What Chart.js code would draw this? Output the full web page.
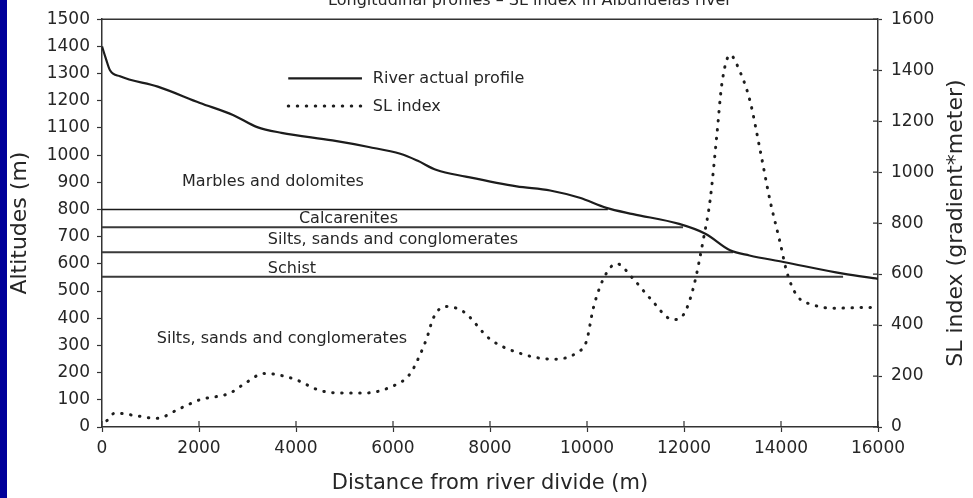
<!DOCTYPE html>
<html>
<head>
<meta charset="utf-8">
<script src="https://cdn.jsdelivr.net/npm/chart.js@4.4.1/dist/chart.umd.min.js"></script>
<style>
  html, body { margin: 0; padding: 0; background: #fff; }
  canvas { display: block; }
</style>
</head>
<body>
<canvas id="profileChart" width="973" height="498"></canvas>
<script>
'use strict';

// river actual profile (distance m, altitude m)
let riverDist = [0, 80, 165, 371, 1150, 2020, 2700, 3200, 3700, 4750, 5500, 6150, 6500, 6900, 7500, 8550, 9240, 9850, 10400, 10950, 11900, 12450, 12950, 13350, 14050, 15280, 16000];
let riverAlt  = [1400, 1355, 1312, 1290, 1252, 1192, 1148, 1103, 1082, 1054, 1030, 1005, 980, 945, 921, 885, 870, 843, 806, 783, 747, 710, 650, 631, 607, 564, 545];

// SL index (distance m, gradient*meter)
let slDist  = [100, 270, 650, 1130, 1600, 2020, 2640, 2900, 3350, 3950, 4500, 5000, 5390, 5940, 6350, 6560, 6700, 6830, 7070, 7450, 8000, 8690, 9300, 9790, 9990, 10130, 10340, 10610, 10950, 11300, 11780, 11990, 12190, 12400, 12540, 12680, 12780, 12950, 13150, 13360, 13570, 13770, 13980, 14120, 14320, 14670, 15080, 15840, 16000];
let slValue = [25, 55, 46, 34, 72, 107, 133, 165, 210, 189, 143, 133, 133, 156, 208, 285, 350, 427, 473, 453, 345, 285, 266, 292, 337, 466, 582, 641, 582, 505, 421, 441, 544, 737, 892, 1151, 1345, 1460, 1396, 1280, 1086, 892, 725, 608, 518, 479, 466, 469, 462];

// lithological contacts (altitude m, distance where they meet the river)
let layerAlt = [800, 735, 643, 553];
let layerEnd = [10430, 11980, 13010, 15280];

// lithology labels (text, distance, altitude)
let lithoText = ['Marbles and dolomites', 'Calcarenites', 'Silts, sands and conglomerates', 'Schist', 'Silts, sands and conglomerates'];
let lithoX = [1650, 4060, 3420, 3420, 1130];
let lithoY = [901, 764, 689, 582, 323];

let altTicksMax = 1500;
let slTicksMax = 1600;
let distMax = 16000;

let fontName = '"DejaVu Sans", sans-serif';
let ink = '#262626';

let datasets = [];
datasets.push({
  label: 'River actual profile',
  data: riverDist.map((d, i) => ({x: d, y: riverAlt[i]})),
  yAxisID: 'y',
  borderColor: '#1c1c1c',
  borderWidth: 2.2,
  pointRadius: 0,
  cubicInterpolationMode: 'monotone'
});
datasets.push({
  label: 'SL index',
  data: slDist.map((d, i) => ({x: d, y: slValue[i]})),
  yAxisID: 'y2',
  borderColor: '#1e1e1e',
  borderWidth: 3,
  borderDash: [0.5, 8.5],
  borderCapStyle: 'round',
  pointRadius: 0,
  cubicInterpolationMode: 'monotone'
});
for (let i = 0; i < layerAlt.length; i++) {
  datasets.push({
    label: 'contact' + i,
    data: [{x: 0, y: layerAlt[i]}, {x: layerEnd[i], y: layerAlt[i]}],
    yAxisID: 'y',
    borderColor: i === 0 ? '#1a1a1a' : '#3a3a3a',
    borderWidth: i === 0 ? 1.6 : 2,
    pointRadius: 0
  });
}

let extras = {
  id: 'extras',
  beforeDraw(chart) {
    let ctx = chart.ctx;
    ctx.save();
    ctx.fillStyle = '#fff';
    ctx.fillRect(0, 0, chart.width, chart.height);
    ctx.fillStyle = '#00009a';
    ctx.fillRect(0, 0, 7, chart.height);
    ctx.restore();
  },
  afterDraw(chart) {
    let ctx = chart.ctx;
    let ca = chart.chartArea;
    let xs = chart.scales.x, ys = chart.scales.y, y2 = chart.scales.y2;
    ctx.save();

    // top frame line
    ctx.strokeStyle = '#333';
    ctx.lineWidth = 1.5;
    ctx.beginPath();
    ctx.moveTo(ca.left, ca.top);
    ctx.lineTo(ca.right, ca.top);
    ctx.stroke();

    // inner tick marks on right and bottom axes
    ctx.lineWidth = 1.2;
    ctx.beginPath();
    y2.ticks.forEach(t => {
      let py = y2.getPixelForValue(t.value);
      ctx.moveTo(ca.right - 5, py);
      ctx.lineTo(ca.right, py);
    });
    xs.ticks.forEach(t => {
      let px = xs.getPixelForValue(t.value);
      ctx.moveTo(px, ca.bottom - 6);
      ctx.lineTo(px, ca.bottom);
    });
    ctx.stroke();

    // lithology labels
    ctx.fillStyle = ink;
    ctx.font = '16px ' + fontName;
    ctx.textAlign = 'left';
    ctx.textBaseline = 'middle';
    lithoText.forEach((txt, i) => {
      ctx.fillText(txt, xs.getPixelForValue(lithoX[i]), ys.getPixelForValue(lithoY[i]));
    });

    // legend
    let w = ca.right - ca.left, h = ca.bottom - ca.top;
    let lx0 = ca.left + 0.24 * w, lx1 = ca.left + 0.335 * w, tx = ca.left + 0.349 * w;
    let rows = [ca.top + 0.145 * h, ca.top + 0.213 * h];
    [0, 1].forEach(k => {
      let ds = chart.data.datasets[k];
      ctx.strokeStyle = ds.borderColor;
      ctx.lineWidth = ds.borderWidth;
      ctx.setLineDash(ds.borderDash || []);
      ctx.lineCap = ds.borderCapStyle || 'butt';
      ctx.beginPath();
      ctx.moveTo(lx0, rows[k]);
      ctx.lineTo(lx1, rows[k]);
      ctx.stroke();
      ctx.setLineDash([]);
      ctx.lineCap = 'butt';
      ctx.fillText(ds.label, tx, rows[k] + 1);
    });

    // right axis title, reading bottom to top
    ctx.save();
    ctx.translate(956, (ca.top + ca.bottom) / 2);
    ctx.rotate(-Math.PI / 2);
    ctx.font = '22px ' + fontName;
    ctx.textAlign = 'center';
    ctx.textBaseline = 'middle';
    ctx.fillText('SL index (gradient*meter)', 0, 0);
    ctx.restore();

    // main title, cropped by the top edge
    ctx.font = '16px ' + fontName;
    ctx.textAlign = 'center';
    ctx.textBaseline = 'alphabetic';
    ctx.fillText('Longitudinal profiles \u2013 SL index in Albu\u00f1uelas river', (ca.left + ca.right) / 2 + 40, 5);

    ctx.restore();
  }
};

let tickFont = {family: fontName, size: 17};
let plain = v => String(v);

new Chart(document.getElementById('profileChart'), {
  type: 'line',
  data: {datasets: datasets},
  plugins: [extras],
  options: {
    responsive: false,
    animation: false,
    devicePixelRatio: 1,
    layout: {padding: {top: 14, left: 0, right: 0, bottom: 0}},
    plugins: {legend: {display: false}, tooltip: {enabled: false}},
    scales: {
      x: {
        type: 'linear',
        min: 0,
        max: distMax,
        ticks: {stepSize: 2000, font: tickFont, color: ink, padding: 6, maxRotation: 0, callback: plain},
        grid: {drawOnChartArea: false, tickLength: 5, tickColor: '#333', tickWidth: 1.2},
        border: {color: '#333', width: 1.5},
        title: {display: true, text: 'Distance from river divide (m)', color: ink,
                font: {family: fontName, size: 21}, padding: {top: 0, bottom: 2}},
        afterFit(s) { s.height = 71; }
      },
      y: {
        position: 'left',
        min: 0,
        max: altTicksMax,
        ticks: {stepSize: 100, font: tickFont, color: ink, padding: 7, callback: plain},
        grid: {drawOnChartArea: false, tickLength: 5, tickColor: '#333', tickWidth: 1.2},
        border: {color: '#333', width: 1.5},
        title: {display: true, text: 'Altitudes (m)', color: ink,
                font: {family: fontName, size: 22}, padding: {top: 7, bottom: 0}},
        afterFit(s) { s.width = 102; }
      },
      y2: {
        position: 'right',
        min: 0,
        max: slTicksMax,
        ticks: {stepSize: 200, font: tickFont, color: ink, padding: 9, callback: plain},
        grid: {drawOnChartArea: false, tickLength: 4, tickColor: '#333', tickWidth: 1.2},
        border: {color: '#333', width: 1.5},
        afterFit(s) { s.width = 95; }
      }
    }
  }
});
</script>
</body>
</html>
